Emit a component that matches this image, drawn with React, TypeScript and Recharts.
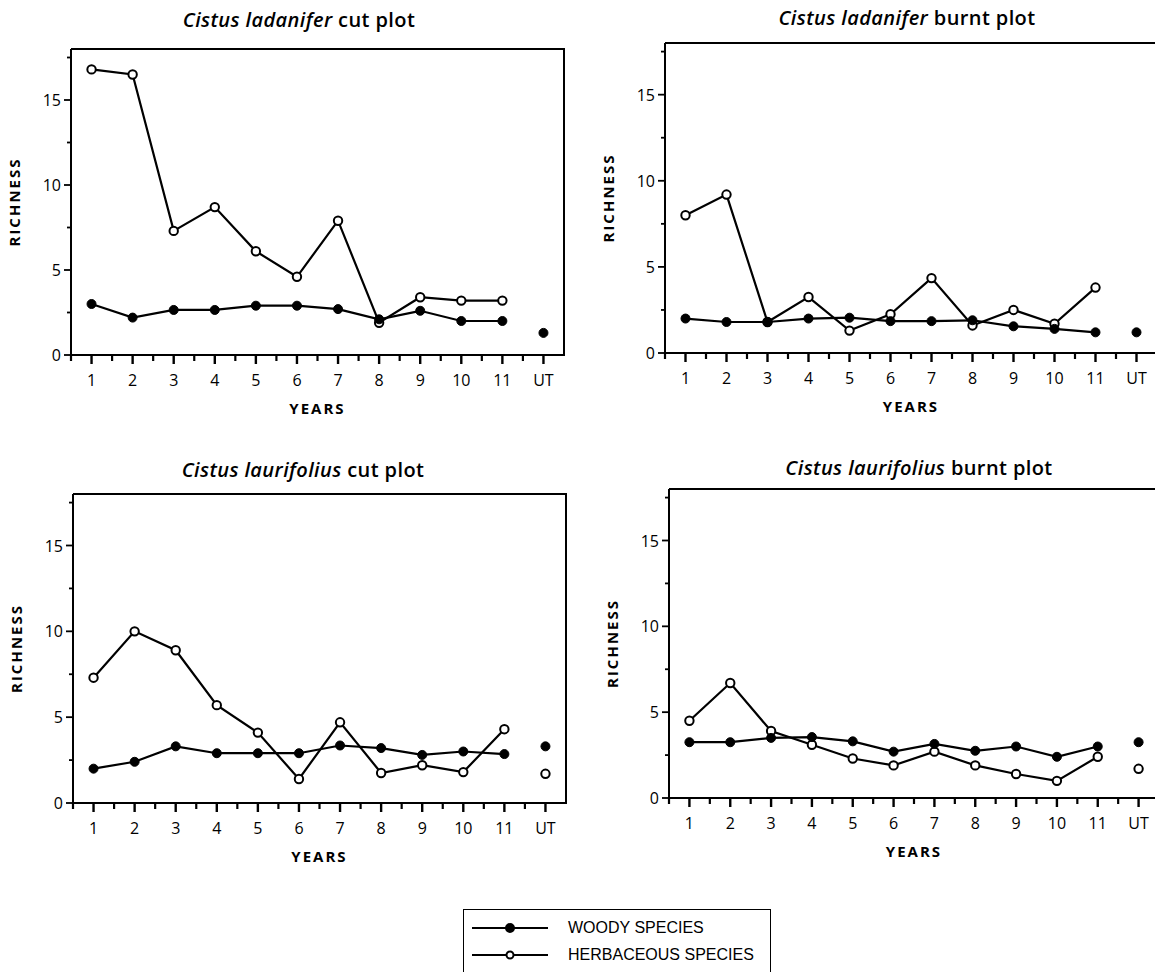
import React from 'react';
import { LineChart, Line, XAxis, YAxis } from 'recharts';

const years = ['1', '2', '3', '4', '5', '6', '7', '8', '9', '10', '11', 'UT'];
const yTicks = [0, 2.5, 5, 7.5, 10, 12.5, 15, 17.5];

// last value of each array is the untreated (UT) plot
const ladCutWoody = [3.0, 2.2, 2.65, 2.65, 2.9, 2.9, 2.7, 2.1, 2.6, 2.0, 2.0, 1.3];
const ladCutHerb = [16.8, 16.5, 7.3, 8.7, 6.1, 4.6, 7.9, 1.9, 3.4, 3.2, 3.2, null];
const ladBurntWoody = [2.0, 1.8, 1.8, 2.0, 2.05, 1.85, 1.85, 1.9, 1.55, 1.4, 1.2, 1.2];
const ladBurntHerb = [8.0, 9.2, 1.8, 3.25, 1.3, 2.25, 4.35, 1.6, 2.5, 1.7, 3.8, null];
const laurCutWoody = [2.0, 2.4, 3.3, 2.9, 2.9, 2.9, 3.35, 3.2, 2.8, 3.0, 2.85, 3.3];
const laurCutHerb = [7.3, 10.0, 8.9, 5.7, 4.1, 1.4, 4.7, 1.75, 2.2, 1.8, 4.3, 1.7];
const laurBurntWoody = [3.25, 3.25, 3.5, 3.55, 3.3, 2.7, 3.15, 2.75, 3.0, 2.4, 3.0, 3.25];
const laurBurntHerb = [4.5, 6.7, 3.9, 3.1, 2.3, 1.9, 2.7, 1.9, 1.4, 1.0, 2.4, 1.7];

const buildRows = (woody: (number | null)[], herb: (number | null)[]) =>
  years.map((year, i) => ({
    year,
    woody: i < 11 ? woody[i] : null,
    herb: i < 11 ? herb[i] : null,
    woodyUT: i === 11 ? woody[i] : null,
    herbUT: i === 11 ? herb[i] : null,
  }));

const FONT = '"Open Sans", sans-serif';

const YTick = ({ x, y, payload }: any) => {
  const major = payload.value % 5 === 0;
  return (
    <g>
      <line x1={x} x2={x - (major ? 7 : 4)} y1={y} y2={y} stroke="#000" strokeWidth={1.8} />
      {major && (
        <text x={x - 10} y={y} dy={6} textAnchor="end" fontSize={16} fontFamily={FONT} fill="#000">
          {payload.value}
        </text>
      )}
    </g>
  );
};

const makeXTick = (step: number) => ({ x, y, payload }: any) => {
  const i = years.indexOf(String(payload.value));
  return (
    <g>
      <line x1={x} x2={x} y1={y - 1} y2={y + 9} stroke="#000" strokeWidth={2.4} />
      {i < 11 && <line x1={x + step / 2} x2={x + step / 2} y1={y - 1} y2={y + 6} stroke="#000" strokeWidth={2.2} />}
      {i === 0 && <line x1={x - step / 2} x2={x - step / 2} y1={y - 1} y2={y + 6} stroke="#000" strokeWidth={2.2} />}
      <text x={x} y={y + 31} textAnchor="middle" fontSize={16} fontFamily={FONT} fill="#000">
        {payload.value}
      </text>
    </g>
  );
};

const woodyDot = { r: 4.5, fill: '#000', stroke: '#000', strokeWidth: 1 };
const herbDot = { r: 4.2, fill: '#fff', stroke: '#000', strokeWidth: 2 };

type PanelProps = {
  left: number;
  top: number;
  w: number;
  h: number;
  woody: (number | null)[];
  herb: (number | null)[];
  genus: string;
  rest: string;
  titleX: number;
  titleY: number;
};

const YW = 70;
const XH = 62;

const Panel: React.FC<PanelProps> = ({ left, top, w, h, woody, herb, genus, rest, titleX, titleY }) => {
  const data = buildRows(woody, herb);
  const step = w / years.length;
  return (
    <>
      <div
        style={{
          position: 'absolute',
          left: titleX - 200,
          width: 400,
          top: titleY - 14,
          textAlign: 'center',
          fontFamily: FONT,
          fontWeight: 600,
          fontSize: 20,
          lineHeight: '28px',
          letterSpacing: 0.4,
          whiteSpace: 'nowrap',
        }}
      >
        <i>{genus}</i> {rest}
      </div>
      <div style={{ position: 'absolute', left: left - YW, top: top - 10 }}>
        <LineChart width={YW + w + 10} height={10 + h + XH} data={data} margin={{ top: 10, right: 10, bottom: 0, left: 0 }}>
          <XAxis
            dataKey="year"
            interval={0}
            padding={{ left: step / 2, right: step / 2 }}
            tickLine={false}
            tickSize={0}
            tickMargin={0}
            height={XH}
            axisLine={{ stroke: '#000', strokeWidth: 2 }}
            tick={makeXTick(step)}
            label={{ value: 'YEARS', position: 'insideBottom', offset: 3, fill: '#000', fontSize: 15, fontWeight: 700, fontFamily: FONT, letterSpacing: 2 }}
          />
          <YAxis
            type="number"
            domain={[0, 18]}
            ticks={yTicks}
            interval={0}
            tickLine={false}
            tickSize={0}
            tickMargin={0}
            width={YW}
            axisLine={{ stroke: '#000', strokeWidth: 2 }}
            tick={<YTick />}
            label={{ value: 'RICHNESS', angle: -90, position: 'insideLeft', offset: 14, fill: '#000', fontSize: 15, fontWeight: 700, fontFamily: FONT, letterSpacing: 2, style: { textAnchor: 'middle' } }}
          />
          <Line dataKey="herb" stroke="#000" strokeWidth={2.2} dot={herbDot} activeDot={false} isAnimationActive={false} />
          <Line dataKey="woody" stroke="#000" strokeWidth={2.2} dot={woodyDot} activeDot={false} isAnimationActive={false} />
          <Line dataKey="herbUT" stroke="none" dot={herbDot} activeDot={false} isAnimationActive={false} />
          <Line dataKey="woodyUT" stroke="none" dot={woodyDot} activeDot={false} isAnimationActive={false} />
        </LineChart>
      </div>
      <div
        style={{
          position: 'absolute',
          left,
          top: top - 1,
          width: w - 1,
          height: h,
          borderTop: '2px solid #000',
          borderRight: '2px solid #000',
          pointerEvents: 'none',
        }}
      />
    </>
  );
};

const LegendRow: React.FC<{ filled: boolean; label: string; y: number }> = ({ filled, label, y }) => (
  <div style={{ position: 'absolute', left: 6, top: y, height: 20, display: 'flex', alignItems: 'center' }}>
    <svg width={80} height={20}>
      <line x1={2} x2={78} y1={10} y2={10} stroke="#000" strokeWidth={2} />
      <circle cx={40} cy={10} r={filled ? 4 : 3.5} fill={filled ? '#000' : '#fff'} stroke="#000" strokeWidth={2} />
    </svg>
    <span style={{ marginLeft: 18, fontFamily: '"Liberation Sans", Arial, sans-serif', fontSize: 16 }}>{label}</span>
  </div>
);

export default function App() {
  return (
    <div style={{ position: 'fixed', left: 0, top: 0, width: 1155, height: 972, overflow: 'hidden', background: '#fff' }}>
      <Panel left={71} top={49} w={493} h={306} woody={ladCutWoody} herb={ladCutHerb} genus="Cistus ladanifer" rest="cut plot" titleX={299} titleY={20} />
      <Panel left={665} top={43} w={492} h={310} woody={ladBurntWoody} herb={ladBurntHerb} genus="Cistus ladanifer" rest="burnt plot" titleX={907} titleY={18} />
      <Panel left={73} top={494} w={493} h={309} woody={laurCutWoody} herb={laurCutHerb} genus="Cistus laurifolius" rest="cut plot" titleX={303} titleY={470} />
      <Panel left={669} top={489} w={490} h={309} woody={laurBurntWoody} herb={laurBurntHerb} genus="Cistus laurifolius" rest="burnt plot" titleX={919} titleY={468} />
      <div style={{ position: 'absolute', left: 463, top: 909, width: 306, height: 80, border: '1.5px solid #000' }}>
        <LegendRow filled label="WOODY SPECIES" y={8} />
        <LegendRow filled={false} label="HERBACEOUS SPECIES" y={35} />
      </div>
    </div>
  );
}
